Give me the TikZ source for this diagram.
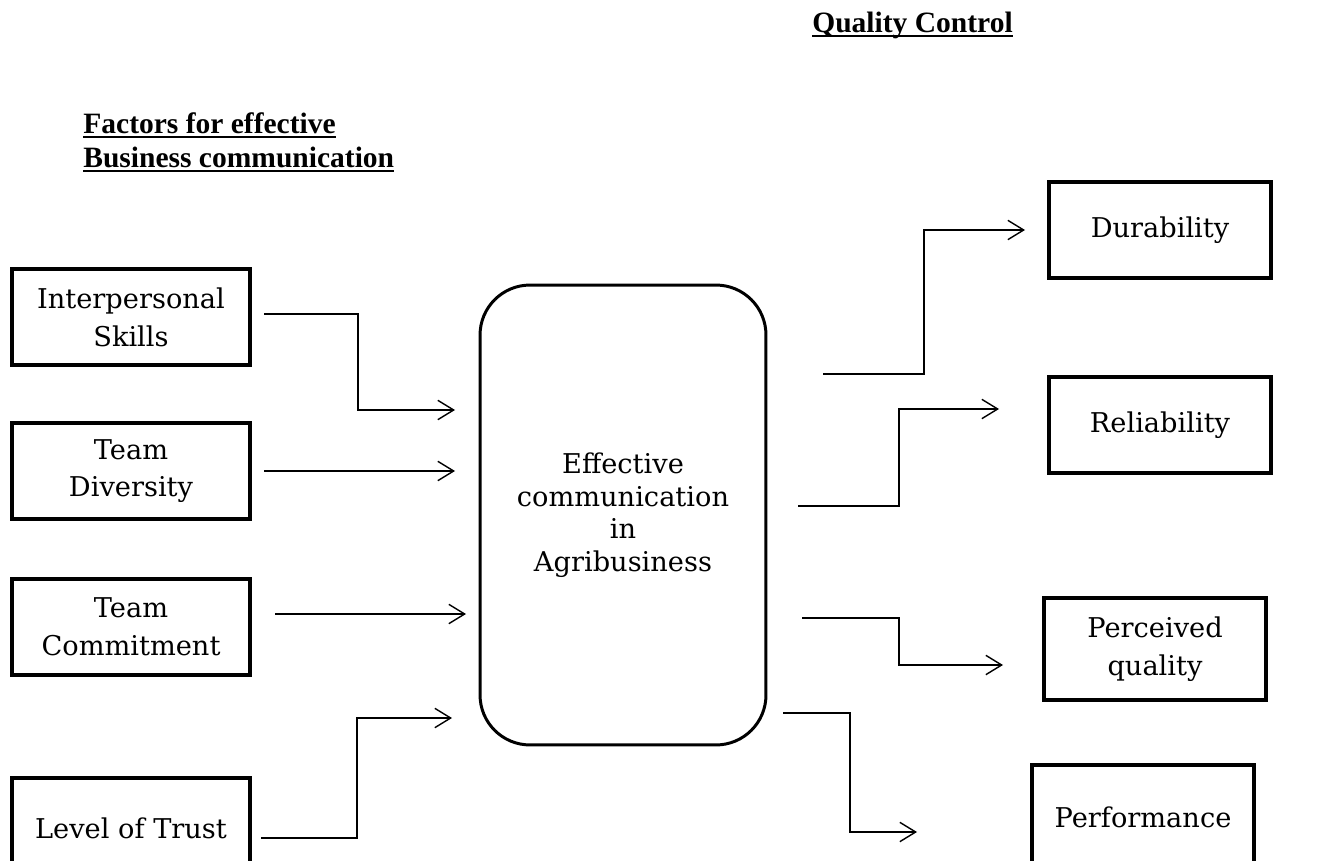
\documentclass[tikz,border=0pt]{standalone}
\usepackage{fontspec}
\setmainfont{DejaVu Serif}
\newfontfamily\headfont{Liberation Serif}
\usetikzlibrary{arrows.meta}
\newcommand{\ulhead}[1]{\setbox0\hbox{\headfont\bfseries #1}\rlap{\rule[-2.4pt]{\wd0}{1.4pt}}\box0}

\begin{document}
\begin{tikzpicture}[x=0.02cm, y=-0.02cm,
    factor/.style={draw, line width=2.2pt, minimum width=4.76cm, minimum height=1.92cm, align=center, font=\fontsize{15.5}{21.5}\selectfont},
    outcome/.style={factor, minimum width=4.44cm},
    hub/.style={draw, line width=1.7pt, rounded corners=1cm, minimum width=5.72cm, minimum height=9.2cm, align=center, font=\fontsize{15.5}{18.5}\selectfont},
    head/.style={anchor=base west, inner sep=0pt, font=\fontsize{16.8}{20}\selectfont},
    flow/.style={line width=0.8pt, -{Straight Barb[length=9pt,width=11pt]}}]
    \useasboundingbox (0,0) rectangle (1317,861);

    \node[head] (qc) at (812,33) {\ulhead{Quality Control}};
    \node[head] (facA) at (83,134) {\ulhead{Factors for effective}};
    \node[head] (facB) at (83,168) {\ulhead{Business communication}};

    \node[factor] (inter) at (131,317) {Interpersonal\\Skills};
    \node[factor] (div) at (131,471) {Team\\Diversity};
    \node[factor] (com) at (131,627) {Team\\Commitment};
    \node[factor, minimum height=2cm] (trust) at (131,828) {Level of Trust};

    \node[hub] (eca) at (623,515) {Effective\\communication\\in\\Agribusiness};

    \node[outcome] (dur) at (1160,230) {Durability};
    \node[outcome] (rel) at (1160,425) {Reliability};
    \node[outcome, minimum height=2.04cm] (perc) at (1155,649) {Perceived\\quality};
    \node[outcome, minimum height=2.08cm] (perf) at (1143,817) {Performance};

    \coordinate (i0) at (264,314);
    \coordinate (i1) at (455,410);
    \coordinate (d0) at (264,471);
    \coordinate (d1) at (455,471);
    \coordinate (c0) at (275,614);
    \coordinate (c1) at (466,614);
    \coordinate (t0) at (261,838);
    \coordinate (t1) at (452,718);
    \coordinate (u0) at (823,374);
    \coordinate (u1) at (1025,230);
    \coordinate (r0) at (798,506);
    \coordinate (r1) at (999,409);
    \coordinate (p0) at (802,618);
    \coordinate (p1) at (1003,665);
    \coordinate (f0) at (783,713);
    \coordinate (f1) at (917,832);

    \draw[flow] (i0) -- ++(94,0) |- (i1);
    \draw[flow] (d0) -- (d1);
    \draw[flow] (c0) -- (c1);
    \draw[flow] (t0) -- ++(96,0) |- (t1);
    \draw[flow] (u0) -- ++(101,0) |- (u1);
    \draw[flow] (r0) -- ++(101,0) |- (r1);
    \draw[flow] (p0) -- ++(97,0) |- (p1);
    \draw[flow] (f0) -- ++(67,0) |- (f1);
\end{tikzpicture}
\end{document}
